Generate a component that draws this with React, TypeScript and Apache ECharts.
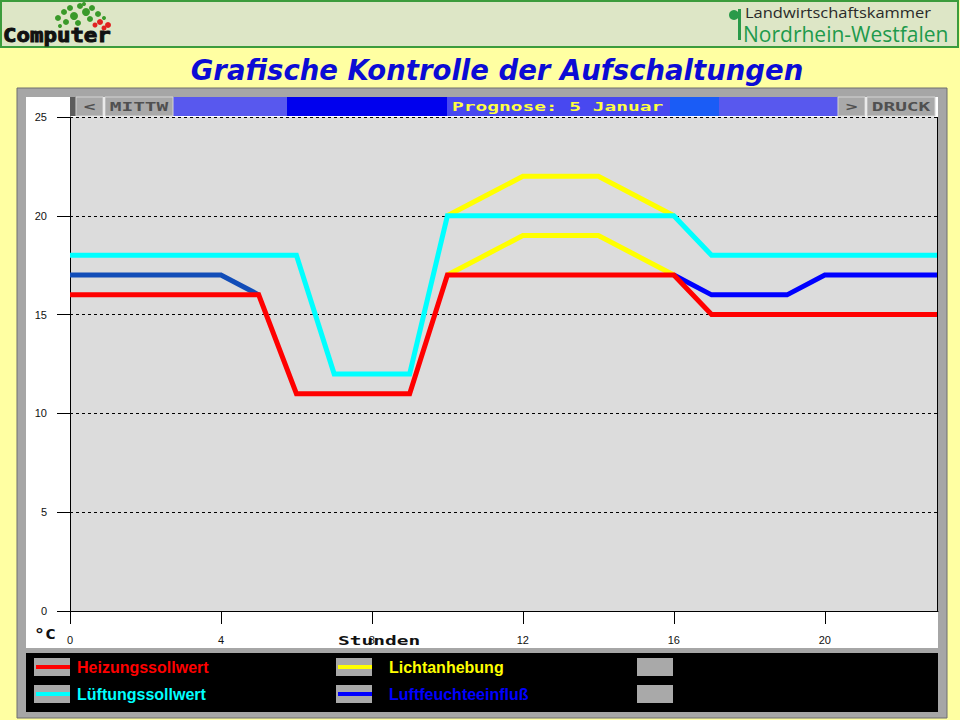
import React, { useEffect, useRef } from 'react';
import * as echarts from 'echarts';

// ---- data ----
const hours = ['0', '1', '2', '3', '4', '5', '6', '7', '8', '9', '10', '11', '12', '13', '14', '15', '16', '17', '18', '19', '20', '21', '22', '23'];
const heizungssollwert = [16, 16, 16, 16, 16, 16, 11, 11, 11, 11, 17, 17, 17, 17, 17, 17, 17, 15, 15, 15, 15, 15, 15, 15];
const lueftungssollwert = [18, 18, 18, 18, 18, 18, 18, 12, 12, 12, 20, 20, 20, 20, 20, 20, 20, 18, 18, 18, 18, 18, 18, 18];
const lichtanhebungHeizung = [null, null, null, null, null, null, null, null, null, null, 17, 18, 19, 19, 19, 18, 17, null, null, null, null, null, null, null];
const lichtanhebungLueftung = [null, null, null, null, null, null, null, null, null, null, 20, 21, 22, 22, 22, 21, 20, null, null, null, null, null, null, null];
const luftfeuchteMorgen = [17, 17, 17, 17, 17, 16, null, null, null, null, null, null, null, null, null, null, null, null, null, null, null, null, null, null];
const luftfeuchteAbend = [null, null, null, null, null, null, null, null, null, null, null, null, null, null, null, null, 17, 16, 16, 16, 17, 17, 17, 17];

const legendItems = [
  { name: 'Heizungssollwert', color: '#ff0000', col: 0, row: 0 },
  { name: 'Lüftungssollwert', color: '#00ffff', col: 0, row: 1 },
  { name: 'Lichtanhebung', color: '#ffff00', col: 1, row: 0 },
  { name: 'Luftfeuchteeinfluß', color: '#0000ff', col: 1, row: 1 },
];

const MONO = '"DejaVu Sans Mono"';

function monoText(text: string, x: number, y: number, fill: string, size = 13, scaleX = 1.5, align = 'left') {
  return {
    type: 'text',
    x,
    y,
    scaleX,
    z: 20,
    silent: true,
    style: { text, x: 0, y: 0, fill, font: `bold ${size}px ${MONO}`, textAlign: align, textVerticalAlign: 'middle' },
  };
}

function button(x: number, w: number, label: string) {
  return [
    { type: 'rect', z: 15, silent: true, shape: { x, y: 97, width: w, height: 19 }, style: { fill: '#a9a9a9', stroke: '#d4d4d4', lineWidth: 1 } },
    monoText(label, x + w / 2, 107, '#505050', 13, 1.5, 'center'),
  ];
}

export default function App() {
  const ref = useRef<HTMLDivElement>(null);

  useEffect(() => {
    const chart = echarts.init(ref.current!, null, { renderer: 'svg' });

    const lineSeries = (name: string, data: (number | null)[], color: string) => ({
      name,
      type: 'line',
      data,
      showSymbol: false,
      symbol: 'none',
      silent: true,
      connectNulls: false,
      lineStyle: { width: 5, color, join: 'miter', cap: 'butt' },
      itemStyle: { color },
    });

    const plant: any[] = [];
    const greens = [[58, 18, 3], [64, 12, 3], [70, 8, 3], [74, 16, 4], [80, 6, 3], [86, 12, 4], [92, 8, 3], [66, 22, 3], [98, 14, 3], [90, 19, 3], [78, 23, 3], [84, 4, 2], [104, 18, 2], [60, 26, 2]];
    greens.forEach(([cx, cy, r]) => plant.push({ type: 'circle', z: 5, silent: true, shape: { cx, cy, r }, style: { fill: '#3a9a2a' } }));
    const berries = [[100, 22, 3], [108, 25, 3], [95, 25, 2.5], [104, 28, 2.5]];
    berries.forEach(([cx, cy, r]) => plant.push({ type: 'circle', z: 6, silent: true, shape: { cx, cy, r }, style: { fill: '#e02020' } }));

    const legendGraphics: any[] = [];
    legendItems.forEach((it) => {
      const bx = it.col === 0 ? 34 : 336;
      const tx = it.col === 0 ? 77 : 389;
      const cy = it.row === 0 ? 667 : 694;
      legendGraphics.push({ type: 'rect', z: 15, silent: true, shape: { x: bx, y: cy - 9, width: 36, height: 18 }, style: { fill: '#a9a9a9' } });
      legendGraphics.push({ type: 'line', z: 16, silent: true, shape: { x1: bx + 2, y1: cy, x2: bx + 36, y2: cy }, style: { stroke: it.color, lineWidth: 4 } });
      legendGraphics.push({ type: 'text', z: 16, silent: true, x: tx, y: cy, style: { text: it.name, x: 0, y: 0, fill: it.color, font: 'bold 16px "Liberation Sans"', textAlign: 'left', textVerticalAlign: 'middle' } });
    });
    [0, 1].forEach((r) => {
      legendGraphics.push({ type: 'rect', z: 15, silent: true, shape: { x: 637, y: (r === 0 ? 667 : 694) - 9, width: 36, height: 18 }, style: { fill: '#a9a9a9' } });
    });

    const option: any = {
      animation: false,
      backgroundColor: '#ffffa2',
      grid: { left: 70, top: 117, width: 868, height: 494, show: true, backgroundColor: '#dcdcdc', borderWidth: 0 },
      xAxis: {
        type: 'category',
        data: hours,
        boundaryGap: false,
        axisLine: { show: true, lineStyle: { color: '#000', width: 1 } },
        axisTick: { show: true, length: 13, interval: 3, lineStyle: { color: '#000', width: 1 } },
        axisLabel: { show: true, interval: 3, margin: 23, fontSize: 11, color: '#111', fontFamily: '"Liberation Sans"' },
        splitLine: { show: false },
      },
      yAxis: {
        type: 'value',
        min: 0,
        max: 25,
        interval: 5,
        axisLine: { show: true, lineStyle: { color: '#000', width: 1 } },
        axisTick: { show: true, length: 13, lineStyle: { color: '#000', width: 1 } },
        axisLabel: { margin: 23, fontSize: 11, color: '#111', fontFamily: '"Liberation Sans"' },
        splitLine: { show: true, lineStyle: { color: '#000', width: 1, type: [3, 3] } },
      },
      series: [
        lineSeries('Lichtanhebung', lichtanhebungHeizung, '#ffff00'),
        lineSeries('Lichtanhebung ', lichtanhebungLueftung, '#ffff00'),
        lineSeries('Luftfeuchteeinfluß', luftfeuchteMorgen, '#124db8'),
        lineSeries('Luftfeuchteeinfluß ', luftfeuchteAbend, '#0000ff'),
        lineSeries('Lüftungssollwert', lueftungssollwert, '#00ffff'),
        lineSeries('Heizungssollwert', heizungssollwert, '#ff0000'),
      ],
      graphic: [
        // header band
        { type: 'rect', z: -20, silent: true, shape: { x: 1, y: 1, width: 957, height: 46 }, style: { fill: '#dde6c6', stroke: '#3c9c3c', lineWidth: 2 } },
        ...plant,
        { type: 'text', z: 7, silent: true, x: 3, y: 35, scaleX: 1.12, style: { text: 'Computer', x: 0, y: 0, fill: '#111', stroke: '#111', lineWidth: 1, font: `900 20px ${MONO}`, textAlign: 'left', textVerticalAlign: 'middle' } },
        { type: 'circle', z: 5, silent: true, shape: { cx: 734, cy: 15, r: 5 }, style: { fill: '#2a9a4a' } },
        { type: 'rect', z: 5, silent: true, shape: { x: 738, y: 9, width: 3, height: 31 }, style: { fill: '#2a9a4a' } },
        { type: 'text', z: 5, silent: true, x: 745, y: 12, scaleX: 1.1, style: { text: 'Landwirtschaftskammer', x: 0, y: 0, fill: '#2a2a2a', font: '15px "Open Sans"', textAlign: 'left', textVerticalAlign: 'middle' } },
        { type: 'text', z: 5, silent: true, x: 743, y: 34, style: { text: 'Nordrhein-Westfalen', x: 0, y: 0, fill: '#1e9a4c', font: '21px "Open Sans"', textAlign: 'left', textVerticalAlign: 'middle' } },
        // title
        { type: 'text', z: 5, silent: true, x: 497, y: 70, style: { text: 'Grafische Kontrolle der Aufschaltungen', x: 0, y: 0, fill: '#0c0cd4', font: 'italic bold 27.5px "DejaVu Sans"', textAlign: 'center', textVerticalAlign: 'middle' } },
        // window frame
        { type: 'rect', z: -20, silent: true, shape: { x: 17, y: 88, width: 930, height: 630 }, style: { fill: '#a6a6a6', stroke: '#6e6e6e', lineWidth: 1 } },
        { type: 'rect', z: -19, silent: true, shape: { x: 26, y: 97, width: 912, height: 551 }, style: { fill: '#ffffff' } },
        { type: 'rect', z: -19, silent: true, shape: { x: 26, y: 653, width: 912, height: 59 }, style: { fill: '#000000' } },
        { type: 'line', z: 10, silent: true, shape: { x1: 937.5, y1: 117, x2: 937.5, y2: 611 }, style: { stroke: '#000', lineWidth: 1 } },
        // toolbar
        { type: 'rect', z: 15, silent: true, shape: { x: 70, y: 97, width: 6, height: 19 }, style: { fill: '#5c5c5c' } },
        ...button(76, 27, '<'),
        ...button(105, 68, 'MITTW'),
        { type: 'rect', z: 14, silent: true, shape: { x: 173, y: 97, width: 114, height: 19 }, style: { fill: '#5858ee' } },
        { type: 'rect', z: 14, silent: true, shape: { x: 287, y: 97, width: 160, height: 19 }, style: { fill: '#0000ee' } },
        { type: 'rect', z: 14, silent: true, shape: { x: 447, y: 97, width: 223, height: 19 }, style: { fill: '#4848f0' } },
        { type: 'rect', z: 14, silent: true, shape: { x: 670, y: 97, width: 49, height: 19 }, style: { fill: '#1a5cf6' } },
        { type: 'rect', z: 14, silent: true, shape: { x: 719, y: 97, width: 119, height: 19 }, style: { fill: '#5858ee' } },
        monoText('Prognose: 5 Januar', 452, 107, '#ffff40'),
        ...button(838, 27, '>'),
        ...button(867, 68, 'DRUCK'),
        // axis captions
        monoText('°C', 34, 634, '#111', 14, 1.3),
        monoText('Stunden', 338, 641, '#111'),
        ...legendGraphics,
      ],
    };

    chart.setOption(option);
    return () => chart.dispose();
  }, []);

  return <div ref={ref} style={{ position: 'fixed', left: 0, top: 0, width: 960, height: 720 }} />;
}
